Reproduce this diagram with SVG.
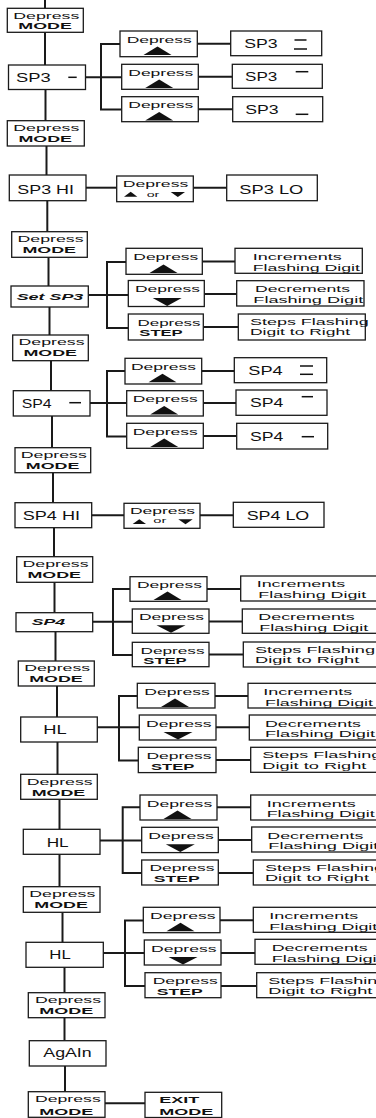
<svg xmlns="http://www.w3.org/2000/svg" width="376" height="1118" viewBox="0 0 376 1118">
<style>
.bg{fill:#fff}
.box{fill:#fff;stroke:#1a1a1a;stroke-width:1.3}
.c{stroke:#1a1a1a;stroke-width:2;fill:none}
.seg{stroke:#111;stroke-width:1.5}
.tri{fill:#111}
text{font-family:"Liberation Sans",Arial,Helvetica,sans-serif;fill:#111}
.s{font-size:9.5px}
.m{font-size:12.5px}
.o{font-size:8px}
.b{font-weight:bold}
.i{font-style:italic}
</style>
<rect class="bg" x="0" y="0" width="376" height="1118"/>
<g id="connectors">
<line class="c" x1="45" y1="0" x2="45" y2="8.3"/>
<line class="c" x1="45" y1="32.3" x2="45" y2="65"/>
<line class="c" x1="45.5" y1="89.5" x2="45.5" y2="121"/>
<line class="c" x1="46.5" y1="146" x2="46.5" y2="175"/>
<line class="c" x1="47.3" y1="200.7" x2="47.3" y2="231.7"/>
<line class="c" x1="48.5" y1="257.3" x2="48.5" y2="286"/>
<line class="c" x1="49.5" y1="307" x2="49.5" y2="335"/>
<line class="c" x1="51" y1="360.7" x2="51" y2="390.7"/>
<line class="c" x1="52" y1="416" x2="52" y2="447.7"/>
<line class="c" x1="53" y1="472.7" x2="53" y2="502.7"/>
<line class="c" x1="54" y1="527.7" x2="54" y2="556.7"/>
<line class="c" x1="54.5" y1="582.3" x2="54.5" y2="612.7"/>
<line class="c" x1="55.5" y1="631.7" x2="55.5" y2="661"/>
<line class="c" x1="57" y1="686" x2="57" y2="717"/>
<line class="c" x1="57.5" y1="742" x2="57.5" y2="774.3"/>
<line class="c" x1="59.5" y1="799.3" x2="59.5" y2="829.3"/>
<line class="c" x1="59.5" y1="854.3" x2="59.5" y2="886.7"/>
<line class="c" x1="62.5" y1="912.3" x2="62.5" y2="942.3"/>
<line class="c" x1="64.5" y1="967.3" x2="64.5" y2="992.7"/>
<line class="c" x1="64.5" y1="1017.7" x2="64.5" y2="1040.7"/>
<line class="c" x1="65" y1="1066" x2="65" y2="1091.7"/>
<!-- SP3 segment branch -->
<line class="c" x1="85.7" y1="77.3" x2="121.7" y2="77.3"/>
<polyline class="c" points="120,44 101,44 101,109.5 121.7,109.5"/>
<line class="c" x1="197.3" y1="43.8" x2="230.7" y2="43.8"/>
<line class="c" x1="198.3" y1="76.8" x2="232.3" y2="76.8"/>
<line class="c" x1="198.3" y1="109.2" x2="232.7" y2="109.2"/>
<!-- SP3 HI/LO -->
<line class="c" x1="86" y1="187.7" x2="116.7" y2="187.7"/>
<line class="c" x1="193.3" y1="187.7" x2="226.7" y2="187.7"/>
<!-- Set SP3 branch -->
<line class="c" x1="88.3" y1="295" x2="128.3" y2="295"/>
<polyline class="c" points="126,262 107,262 107,328 128.3,328"/>
<line class="c" x1="202.3" y1="261.5" x2="235" y2="261.5"/>
<line class="c" x1="204.3" y1="294" x2="236.7" y2="294"/>
<line class="c" x1="203.3" y1="327" x2="238.3" y2="327"/>
<!-- SP4 segment branch -->
<line class="c" x1="90" y1="403" x2="126.7" y2="403"/>
<polyline class="c" points="125,371 107,371 107,436.5 126.7,436.5"/>
<line class="c" x1="201.7" y1="371" x2="234.3" y2="371"/>
<line class="c" x1="203.3" y1="403" x2="236" y2="403"/>
<line class="c" x1="203.3" y1="436" x2="236.7" y2="436"/>
<!-- SP4 HI/LO -->
<line class="c" x1="91.7" y1="515.3" x2="124" y2="515.3"/>
<line class="c" x1="200" y1="515.3" x2="233.3" y2="515.3"/>
<!-- SP4 set branch -->
<line class="c" x1="92.7" y1="621.7" x2="132.3" y2="621.7"/>
<polyline class="c" points="130,589 113,589 113,655 132.3,655"/>
<line class="c" x1="207" y1="589" x2="240.7" y2="589"/>
<line class="c" x1="209" y1="621.5" x2="242.3" y2="621.5"/>
<line class="c" x1="209" y1="654.5" x2="243.3" y2="654.5"/>
<!-- HL1 branch -->
<line class="c" x1="97.3" y1="727.3" x2="139.3" y2="727.3"/>
<polyline class="c" points="137.3,696 119,696 119,760.5 138.3,760.5"/>
<line class="c" x1="215" y1="696" x2="248" y2="696"/>
<line class="c" x1="216" y1="727.3" x2="249.3" y2="727.3"/>
<line class="c" x1="216" y1="760" x2="250.7" y2="760"/>
<!-- HL2 branch -->
<line class="c" x1="100" y1="840.5" x2="141.7" y2="840.5"/>
<polyline class="c" points="140,807.3 122.7,807.3 122.7,873 141.7,873"/>
<line class="c" x1="217" y1="807.3" x2="250.7" y2="807.3"/>
<line class="c" x1="218.3" y1="840" x2="251.7" y2="840"/>
<line class="c" x1="218.3" y1="873" x2="253.3" y2="873"/>
<!-- HL3 branch -->
<line class="c" x1="103.3" y1="953" x2="144.3" y2="953"/>
<polyline class="c" points="143.3,920.5 125,920.5 125,986 145,986"/>
<line class="c" x1="220" y1="920.3" x2="253.3" y2="920.3"/>
<line class="c" x1="221" y1="953" x2="255" y2="953"/>
<line class="c" x1="221" y1="986" x2="256.7" y2="986"/>
<!-- exit -->
<line class="c" x1="105" y1="1103.3" x2="145" y2="1103.3"/>
</g>

<!-- ===== Section SP3 ===== -->
<g id="dm1"><rect class="box" x="7.3" y="8.3" width="76" height="24"/>
<text class="s" x="13.3" y="18.5" textLength="66" lengthAdjust="spacingAndGlyphs">Depress</text>
<text class="s b" x="18.3" y="29.2" textLength="53.5" lengthAdjust="spacingAndGlyphs">MODE</text></g>

<g id="sp3seg"><rect class="box" x="8.5" y="65" width="77" height="24.5"/>
<text class="m" x="16" y="81.7" textLength="34.7" lengthAdjust="spacingAndGlyphs">SP3</text>
<line class="seg" x1="68.3" y1="77.3" x2="76.7" y2="77.3"/></g>

<g id="sp3a-btn"><rect class="box" x="120" y="31" width="77.3" height="25.7"/>
<text class="s" x="126.7" y="42.7" textLength="65" lengthAdjust="spacingAndGlyphs">Depress</text>
<polygon class="tri" points="143.5,55 157.5,46.5 171.5,55"/></g>
<g id="sp3b-btn"><rect class="box" x="121.7" y="64.3" width="76.6" height="25"/>
<text class="s" x="128.3" y="75.8" textLength="65" lengthAdjust="spacingAndGlyphs">Depress</text>
<polygon class="tri" points="145.2,88 159.2,79.5 173.2,88"/></g>
<g id="sp3c-btn"><rect class="box" x="121.7" y="96.7" width="76.6" height="25"/>
<text class="s" x="128.3" y="108.2" textLength="65" lengthAdjust="spacingAndGlyphs">Depress</text>
<polygon class="tri" points="145.2,120.4 159.2,111.9 173.2,120.4"/></g>

<g id="sp3a-res"><rect class="box" x="230.7" y="31" width="91" height="24.7"/>
<text class="m" x="244.3" y="48.3" textLength="33.4" lengthAdjust="spacingAndGlyphs">SP3</text>
<line class="seg" x1="294.5" y1="40" x2="306.5" y2="40"/>
<line class="seg" x1="294" y1="49" x2="307" y2="49"/></g>
<g id="sp3b-res"><rect class="box" x="232.3" y="64.3" width="90" height="24"/>
<text class="m" x="245" y="80.7" textLength="32.3" lengthAdjust="spacingAndGlyphs">SP3</text>
<line class="seg" x1="295.7" y1="71.7" x2="308.3" y2="71.7"/></g>
<g id="sp3c-res"><rect class="box" x="232.7" y="96.7" width="90" height="25"/>
<text class="m" x="245.3" y="113.5" textLength="33.4" lengthAdjust="spacingAndGlyphs">SP3</text>
<line class="seg" x1="295.7" y1="114.3" x2="308.3" y2="114.3"/></g>

<g id="dm2"><rect class="box" x="7.3" y="120.7" width="77" height="25.3"/>
<text class="s" x="13.3" y="131" textLength="66" lengthAdjust="spacingAndGlyphs">Depress</text>
<text class="s b" x="18.5" y="142" textLength="53.5" lengthAdjust="spacingAndGlyphs">MODE</text></g>

<g id="sp3hi"><rect class="box" x="9.3" y="175" width="76.7" height="25.7"/>
<text class="m" x="17.3" y="194" textLength="56.7" lengthAdjust="spacingAndGlyphs">SP3 HI</text></g>
<g id="sp3-updown"><rect class="box" x="116.7" y="176" width="76.6" height="25.7"/>
<text class="s" x="122.7" y="187.3" textLength="65.6" lengthAdjust="spacingAndGlyphs">Depress</text>
<polygon class="tri" points="124,196.7 130.7,191.8 137.3,196.7"/>
<text class="o" x="146.7" y="196.7" textLength="12.6" lengthAdjust="spacingAndGlyphs">or</text>
<polygon class="tri" points="170.7,192 185,192 177.8,196.9"/></g>
<g id="sp3lo"><rect class="box" x="226.7" y="175" width="90.6" height="25.7"/>
<text class="m" x="239.3" y="194" textLength="64" lengthAdjust="spacingAndGlyphs">SP3 LO</text></g>

<g id="dm3"><rect class="box" x="11.7" y="231.7" width="75.6" height="25.6"/>
<text class="s" x="17.5" y="242" textLength="66" lengthAdjust="spacingAndGlyphs">Depress</text>
<text class="s b" x="22.5" y="253" textLength="53.5" lengthAdjust="spacingAndGlyphs">MODE</text></g>

<g id="setsp3"><rect class="box" x="11" y="286" width="77.3" height="21"/>
<text class="s b i" x="16.7" y="300" textLength="66.6" lengthAdjust="spacingAndGlyphs">Set SP3</text></g>

<g id="sp3-up"><rect class="box" x="126" y="248.3" width="76.3" height="26"/>
<text class="s" x="133.3" y="260" textLength="65" lengthAdjust="spacingAndGlyphs">Depress</text>
<polygon class="tri" points="149.5,273 163.5,264.5 177.5,273"/></g>
<g id="sp3-down"><rect class="box" x="128.3" y="280.5" width="76" height="26"/>
<text class="s" x="135" y="292" textLength="65" lengthAdjust="spacingAndGlyphs">Depress</text>
<polygon class="tri" points="152.7,298 181.7,298 167.2,306"/></g>
<g id="sp3-step"><rect class="box" x="128.3" y="314" width="75" height="26"/>
<text class="s" x="137.5" y="325.5" textLength="63" lengthAdjust="spacingAndGlyphs">Depress</text>
<text class="s b" x="139.3" y="336" textLength="43.4" lengthAdjust="spacingAndGlyphs">STEP</text></g>
<g id="sp3-inc"><rect class="box" x="235" y="248.3" width="127.3" height="25"/>
<text class="s" x="252.7" y="260" textLength="89" lengthAdjust="spacingAndGlyphs">Increments</text>
<text class="s" x="252.7" y="270.7" textLength="107.3" lengthAdjust="spacingAndGlyphs">Flashing Digit</text></g>
<g id="sp3-dec"><rect class="box" x="236.7" y="280.7" width="127.3" height="25.3"/>
<text class="s" x="255" y="292.4" textLength="95" lengthAdjust="spacingAndGlyphs">Decrements</text>
<text class="s" x="253.3" y="303" textLength="110" lengthAdjust="spacingAndGlyphs">Flashing Digit</text></g>
<g id="sp3-steps"><rect class="box" x="238.3" y="314" width="127" height="26"/>
<text class="s" x="250" y="325" textLength="118.7" lengthAdjust="spacingAndGlyphs">Steps Flashing</text>
<text class="s" x="250" y="335" textLength="100" lengthAdjust="spacingAndGlyphs">Digit to Right</text></g>

<!-- ===== Section SP4 ===== -->
<g id="dm4"><rect class="box" x="12.7" y="335" width="75.6" height="25.7"/>
<text class="s" x="18.5" y="345.3" textLength="66" lengthAdjust="spacingAndGlyphs">Depress</text>
<text class="s b" x="23.5" y="356.3" textLength="53.5" lengthAdjust="spacingAndGlyphs">MODE</text></g>

<g id="sp4seg"><rect class="box" x="13.3" y="390.7" width="76.7" height="25.3"/>
<text class="m" x="21.7" y="408" textLength="30" lengthAdjust="spacingAndGlyphs">SP4</text>
<line class="seg" x1="69.3" y1="402.7" x2="81" y2="402.7"/></g>

<g id="sp4a-btn"><rect class="box" x="125" y="358.3" width="76.7" height="25.7"/>
<text class="s" x="131" y="369.8" textLength="65" lengthAdjust="spacingAndGlyphs">Depress</text>
<polygon class="tri" points="148.5,382.3 162.5,373.8 176.5,382.3"/></g>
<g id="sp4b-btn"><rect class="box" x="126.7" y="390.7" width="76.6" height="25.3"/>
<text class="s" x="132.7" y="402.2" textLength="65" lengthAdjust="spacingAndGlyphs">Depress</text>
<polygon class="tri" points="150.2,414.5 164.2,406 178.2,414.5"/></g>
<g id="sp4c-btn"><rect class="box" x="126.7" y="423.3" width="76.6" height="25"/>
<text class="s" x="132.7" y="434.8" textLength="65" lengthAdjust="spacingAndGlyphs">Depress</text>
<polygon class="tri" points="150.2,447 164.2,438.5 178.2,447"/></g>

<g id="sp4a-res"><rect class="box" x="234.3" y="357.7" width="92.4" height="25"/>
<text class="m" x="248.3" y="375" textLength="34.4" lengthAdjust="spacingAndGlyphs">SP4</text>
<line class="seg" x1="300" y1="366" x2="313" y2="366"/>
<line class="seg" x1="300" y1="374.3" x2="313" y2="374.3"/></g>
<g id="sp4b-res"><rect class="box" x="236" y="390" width="91" height="25.3"/>
<text class="m" x="250" y="406.7" textLength="33.3" lengthAdjust="spacingAndGlyphs">SP4</text>
<line class="seg" x1="301.7" y1="396.7" x2="313" y2="396.7"/></g>
<g id="sp4c-res"><rect class="box" x="236.7" y="423.3" width="91" height="25.7"/>
<text class="m" x="250" y="440.7" textLength="33.3" lengthAdjust="spacingAndGlyphs">SP4</text>
<line class="seg" x1="301.7" y1="436.7" x2="314" y2="436.7"/></g>

<g id="dm5"><rect class="box" x="15" y="447.7" width="75.7" height="25"/>
<text class="s" x="20.8" y="458" textLength="66" lengthAdjust="spacingAndGlyphs">Depress</text>
<text class="s b" x="25.8" y="469" textLength="53.5" lengthAdjust="spacingAndGlyphs">MODE</text></g>

<g id="sp4hi"><rect class="box" x="15" y="502.7" width="76.7" height="25"/>
<text class="m" x="22.7" y="520" textLength="57.3" lengthAdjust="spacingAndGlyphs">SP4 HI</text></g>
<g id="sp4-updown"><rect class="box" x="124" y="503.3" width="76" height="25"/>
<text class="s" x="130" y="514" textLength="65" lengthAdjust="spacingAndGlyphs">Depress</text>
<polygon class="tri" points="132.7,524 139.3,519.3 146,524"/>
<text class="o" x="153.3" y="523.3" textLength="13" lengthAdjust="spacingAndGlyphs">or</text>
<polygon class="tri" points="178.3,519.3 192.7,519.3 185.5,524.2"/></g>
<g id="sp4lo"><rect class="box" x="233.3" y="502.3" width="90.7" height="25"/>
<text class="m" x="246.7" y="519.7" textLength="62.6" lengthAdjust="spacingAndGlyphs">SP4 LO</text></g>

<g id="dm6"><rect class="box" x="16.7" y="556.7" width="76" height="25.6"/>
<text class="s" x="22.5" y="567" textLength="66" lengthAdjust="spacingAndGlyphs">Depress</text>
<text class="s b" x="27.5" y="578" textLength="53.5" lengthAdjust="spacingAndGlyphs">MODE</text></g>

<g id="setsp4"><rect class="box" x="16" y="612.7" width="76.7" height="19"/>
<text class="s b i" x="31.7" y="625" textLength="33.3" lengthAdjust="spacingAndGlyphs">SP4</text></g>

<g id="sp4-up"><rect class="box" x="130" y="576.7" width="77" height="24.6"/>
<text class="s" x="137" y="588" textLength="65" lengthAdjust="spacingAndGlyphs">Depress</text>
<polygon class="tri" points="153.5,600 167.5,591.5 181.5,600"/></g>
<g id="sp4-down"><rect class="box" x="132.3" y="609" width="76.7" height="24.3"/>
<text class="s" x="139" y="620.3" textLength="65" lengthAdjust="spacingAndGlyphs">Depress</text>
<polygon class="tri" points="156.5,625.3 185.5,625.3 171,632.8"/></g>
<g id="sp4-step"><rect class="box" x="132.3" y="642.3" width="76.7" height="24.4"/>
<text class="s" x="140.5" y="653.5" textLength="64" lengthAdjust="spacingAndGlyphs">Depress</text>
<text class="s b" x="143.3" y="664" textLength="43.4" lengthAdjust="spacingAndGlyphs">STEP</text></g>
<g id="sp4-inc"><rect class="box" x="240.7" y="576" width="140" height="25"/>
<text class="s" x="256.7" y="587.3" textLength="88.5" lengthAdjust="spacingAndGlyphs">Increments</text>
<text class="s" x="258.3" y="598.3" textLength="108" lengthAdjust="spacingAndGlyphs">Flashing Digit</text></g>
<g id="sp4-dec"><rect class="box" x="242.3" y="609" width="140" height="24.3"/>
<text class="s" x="258.3" y="620.3" textLength="96.5" lengthAdjust="spacingAndGlyphs">Decrements</text>
<text class="s" x="259.3" y="631.2" textLength="109" lengthAdjust="spacingAndGlyphs">Flashing Digit</text></g>
<g id="sp4-steps"><rect class="box" x="243.3" y="642" width="140" height="25"/>
<text class="s" x="255" y="653" textLength="120" lengthAdjust="spacingAndGlyphs">Steps Flashing</text>
<text class="s" x="255" y="663.3" textLength="104.3" lengthAdjust="spacingAndGlyphs">Digit to Right</text></g>

<!-- ===== HL 1 ===== -->
<g id="dm7"><rect class="box" x="18.3" y="661" width="76" height="25"/>
<text class="s" x="24.2" y="671.3" textLength="66" lengthAdjust="spacingAndGlyphs">Depress</text>
<text class="s b" x="29.2" y="682.3" textLength="53.5" lengthAdjust="spacingAndGlyphs">MODE</text></g>
<g id="hl1"><rect class="box" x="20.7" y="717" width="76.6" height="25"/>
<text class="m" x="43.3" y="734" textLength="23.4" lengthAdjust="spacingAndGlyphs">HL</text></g>
<g id="hl1-up"><rect class="box" x="137.3" y="683.3" width="77.7" height="24.7"/>
<text class="s" x="144.3" y="694.8" textLength="65.5" lengthAdjust="spacingAndGlyphs">Depress</text>
<polygon class="tri" points="161,707 175,698.5 189,707"/></g>
<g id="hl1-down"><rect class="box" x="139.3" y="715" width="76.7" height="25"/>
<text class="s" x="146" y="726.5" textLength="65.5" lengthAdjust="spacingAndGlyphs">Depress</text>
<polygon class="tri" points="163.5,732 192.5,732 178,739.5"/></g>
<g id="hl1-step"><rect class="box" x="138.3" y="747.3" width="77.7" height="25.3"/>
<text class="s" x="146.5" y="758.8" textLength="65" lengthAdjust="spacingAndGlyphs">Depress</text>
<text class="s b" x="151" y="769.5" textLength="43.4" lengthAdjust="spacingAndGlyphs">STEP</text></g>
<g id="hl1-inc"><rect class="box" x="248" y="683.3" width="140" height="24.7"/>
<text class="s" x="263.3" y="694.8" textLength="89" lengthAdjust="spacingAndGlyphs">Increments</text>
<text class="s" x="265" y="705.6" textLength="108" lengthAdjust="spacingAndGlyphs">Flashing Digit</text></g>
<g id="hl1-dec"><rect class="box" x="249.3" y="715" width="140" height="25"/>
<text class="s" x="265" y="726.6" textLength="96" lengthAdjust="spacingAndGlyphs">Decrements</text>
<text class="s" x="265" y="737.3" textLength="110" lengthAdjust="spacingAndGlyphs">Flashing Digit</text></g>
<g id="hl1-steps"><rect class="box" x="250.7" y="747.3" width="140" height="25"/>
<text class="s" x="262.3" y="758.3" textLength="119" lengthAdjust="spacingAndGlyphs">Steps Flashing</text>
<text class="s" x="262.3" y="768.5" textLength="104" lengthAdjust="spacingAndGlyphs">Digit to Right</text></g>

<!-- ===== HL 2 ===== -->
<g id="dm8"><rect class="box" x="20.7" y="774.3" width="76.6" height="25"/>
<text class="s" x="26.7" y="784.6" textLength="66" lengthAdjust="spacingAndGlyphs">Depress</text>
<text class="s b" x="31.7" y="795.6" textLength="53.5" lengthAdjust="spacingAndGlyphs">MODE</text></g>
<g id="hl2"><rect class="box" x="23.3" y="829.3" width="76.7" height="25"/>
<text class="m" x="46.7" y="846.7" textLength="22" lengthAdjust="spacingAndGlyphs">HL</text></g>
<g id="hl2-up"><rect class="box" x="140" y="795" width="77" height="25"/>
<text class="s" x="146.7" y="806.5" textLength="65.5" lengthAdjust="spacingAndGlyphs">Depress</text>
<polygon class="tri" points="163.5,819 177.5,810.5 191.5,819"/></g>
<g id="hl2-down"><rect class="box" x="141.7" y="827.3" width="76.6" height="25.3"/>
<text class="s" x="148.3" y="838.8" textLength="65.5" lengthAdjust="spacingAndGlyphs">Depress</text>
<polygon class="tri" points="165.8,844.3 194.8,844.3 180.3,852"/></g>
<g id="hl2-step"><rect class="box" x="141.7" y="860" width="76.6" height="25"/>
<text class="s" x="149.5" y="871.3" textLength="65" lengthAdjust="spacingAndGlyphs">Depress</text>
<text class="s b" x="153.7" y="882" textLength="46" lengthAdjust="spacingAndGlyphs">STEP</text></g>
<g id="hl2-inc"><rect class="box" x="250.7" y="795" width="140" height="25"/>
<text class="s" x="266.7" y="806.5" textLength="89" lengthAdjust="spacingAndGlyphs">Increments</text>
<text class="s" x="266.7" y="817.3" textLength="108" lengthAdjust="spacingAndGlyphs">Flashing Digit</text></g>
<g id="hl2-dec"><rect class="box" x="251.7" y="827" width="140" height="25"/>
<text class="s" x="267.3" y="838.6" textLength="96" lengthAdjust="spacingAndGlyphs">Decrements</text>
<text class="s" x="268.3" y="849.3" textLength="110" lengthAdjust="spacingAndGlyphs">Flashing Digit</text></g>
<g id="hl2-steps"><rect class="box" x="253.3" y="860" width="140" height="25"/>
<text class="s" x="265" y="871" textLength="119" lengthAdjust="spacingAndGlyphs">Steps Flashing</text>
<text class="s" x="265" y="881.3" textLength="104" lengthAdjust="spacingAndGlyphs">Digit to Right</text></g>

<!-- ===== HL 3 ===== -->
<g id="dm9"><rect class="box" x="23.3" y="886.7" width="76.7" height="25.6"/>
<text class="s" x="29.3" y="897" textLength="66" lengthAdjust="spacingAndGlyphs">Depress</text>
<text class="s b" x="34.3" y="908.3" textLength="53.5" lengthAdjust="spacingAndGlyphs">MODE</text></g>
<g id="hl3"><rect class="box" x="26" y="942.3" width="77.3" height="25"/>
<text class="m" x="49.3" y="959.3" textLength="21.4" lengthAdjust="spacingAndGlyphs">HL</text></g>
<g id="hl3-up"><rect class="box" x="143.3" y="907.3" width="76.7" height="25.4"/>
<text class="s" x="150" y="918.8" textLength="65.5" lengthAdjust="spacingAndGlyphs">Depress</text>
<polygon class="tri" points="166.5,931.3 180.5,922.8 194.5,931.3"/></g>
<g id="hl3-down"><rect class="box" x="144.3" y="940" width="76.7" height="25"/>
<text class="s" x="151" y="951.5" textLength="65.5" lengthAdjust="spacingAndGlyphs">Depress</text>
<polygon class="tri" points="168.5,957 197.5,957 183,964.5"/></g>
<g id="hl3-step"><rect class="box" x="145" y="972.7" width="76" height="25"/>
<text class="s" x="152.7" y="983.8" textLength="65" lengthAdjust="spacingAndGlyphs">Depress</text>
<text class="s b" x="156.7" y="994.5" textLength="46" lengthAdjust="spacingAndGlyphs">STEP</text></g>
<g id="hl3-inc"><rect class="box" x="253.3" y="907.3" width="140" height="25"/>
<text class="s" x="269.3" y="918.8" textLength="89" lengthAdjust="spacingAndGlyphs">Increments</text>
<text class="s" x="269.3" y="929.6" textLength="108" lengthAdjust="spacingAndGlyphs">Flashing Digit</text></g>
<g id="hl3-dec"><rect class="box" x="255" y="939.3" width="140" height="25"/>
<text class="s" x="271.7" y="950.9" textLength="96" lengthAdjust="spacingAndGlyphs">Decrements</text>
<text class="s" x="271.7" y="961.6" textLength="110" lengthAdjust="spacingAndGlyphs">Flashing Digit</text></g>
<g id="hl3-steps"><rect class="box" x="256.7" y="972.7" width="140" height="25"/>
<text class="s" x="268.3" y="983.7" textLength="119" lengthAdjust="spacingAndGlyphs">Steps Flashing</text>
<text class="s" x="268.3" y="994" textLength="104" lengthAdjust="spacingAndGlyphs">Digit to Right</text></g>

<!-- ===== End ===== -->
<g id="dm10"><rect class="box" x="28.3" y="992.7" width="76.7" height="25"/>
<text class="s" x="35" y="1003" textLength="66" lengthAdjust="spacingAndGlyphs">Depress</text>
<text class="s b" x="39.3" y="1014" textLength="54" lengthAdjust="spacingAndGlyphs">MODE</text></g>
<g id="again"><rect class="box" x="29.3" y="1040.7" width="76.7" height="25.3"/>
<text class="m" x="43.3" y="1056.7" textLength="48.4" lengthAdjust="spacingAndGlyphs">AgAIn</text></g>
<g id="dm11"><rect class="box" x="28.3" y="1091.7" width="76.7" height="25.6"/>
<text class="s" x="35" y="1101.7" textLength="65.7" lengthAdjust="spacingAndGlyphs">Depress</text>
<text class="s b" x="39.3" y="1114.5" textLength="54" lengthAdjust="spacingAndGlyphs">MODE</text></g>
<g id="exit"><rect class="box" x="145" y="1092.3" width="76.7" height="25.2"/>
<text class="s b" x="159.3" y="1103.3" textLength="40" lengthAdjust="spacingAndGlyphs">EXIT</text>
<text class="s b" x="159.3" y="1114.8" textLength="54" lengthAdjust="spacingAndGlyphs">MODE</text></g>
</svg>
